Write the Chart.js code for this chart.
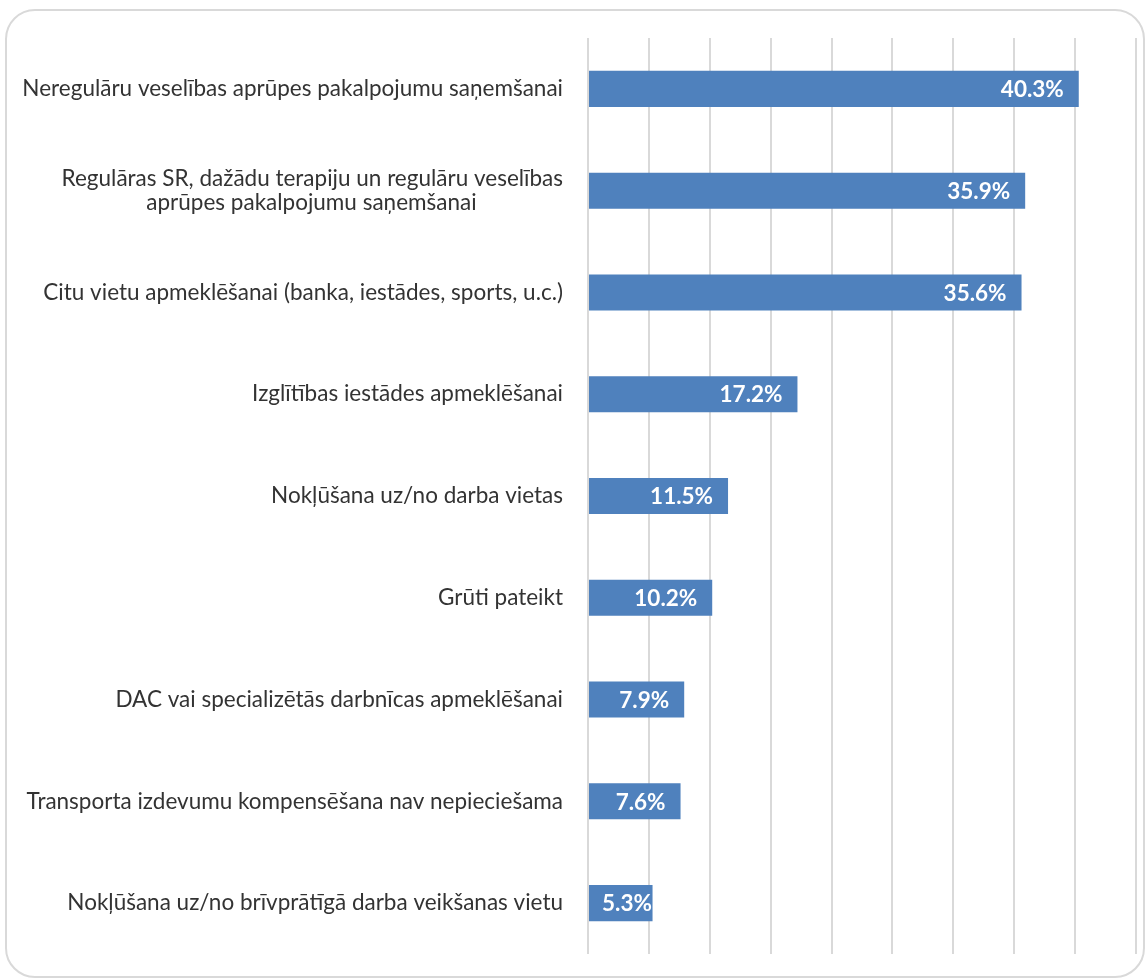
<!DOCTYPE html>
<html>
<head>
<meta charset="utf-8">
<script src="https://cdn.jsdelivr.net/npm/chart.js@4/dist/chart.umd.min.js"></script>
<style>
  html, body { margin: 0; padding: 0; background: #ffffff; }
  #wrap { position: relative; width: 1148px; height: 979px; overflow: hidden; }
  #card { position: absolute; left: 5px; top: 9px; width: 1140px; height: 969px;
          border: 2px solid #d9d9d9; border-radius: 30px; box-sizing: border-box; }
  #c { position: absolute; left: 0; top: 0; }
</style>
</head>
<body>
<div id="wrap">
  <div id="card"></div>
  <canvas id="c" width="1148" height="979"></canvas>
</div>
<script>
const FONT = 'Lato, "Open Sans", sans-serif';
const LABEL_SIZE = 22.5;

const categoryLines = [
  ['Neregulāru veselības aprūpes pakalpojumu saņemšanai'],
  ['Regulāras SR, dažādu terapiju un regulāru veselības', 'aprūpes pakalpojumu saņemšanai'],
  ['Citu vietu apmeklēšanai (banka, iestādes, sports, u.c.)'],
  ['Izglītības iestādes apmeklēšanai'],
  ['Nokļūšana uz/no darba vietas'],
  ['Grūti pateikt'],
  ['DAC vai specializētās darbnīcas apmeklēšanai'],
  ['Transporta izdevumu kompensēšana nav nepieciešama'],
  ['Nokļūšana uz/no brīvprātīgā darba veikšanas vietu']
];
const values = [40.3, 35.9, 35.6, 17.2, 11.5, 10.2, 7.9, 7.6, 5.3];
const axisMin = 0, axisMax = 45, axisStep = 5;

// Centre the lines of multi-line labels (right-aligned block, centred lines)
const mctx = document.createElement('canvas').getContext('2d');
mctx.font = LABEL_SIZE + 'px ' + FONT;
const NB = '\u00A0';
const nbW = mctx.measureText(NB).width || 4;
const categories = categoryLines.map(lines => {
  if (lines.length === 1) return lines[0];
  const widths = lines.map(l => mctx.measureText(l).width);
  const maxW = Math.max(...widths);
  return lines.map((l, i) => l + NB.repeat(Math.round((maxW - widths[i]) / 2 / nbW)));
});

const valueLabels = {
  id: 'valueLabels',
  afterDatasetsDraw(chart) {
    const ctx = chart.ctx;
    const meta = chart.getDatasetMeta(0);
    ctx.save();
    ctx.font = 'bold ' + LABEL_SIZE + 'px ' + FONT;
    ctx.fillStyle = '#ffffff';
    ctx.textBaseline = 'middle';
    ctx.textAlign = 'left';
    meta.data.forEach((bar, i) => {
      const txt = values[i].toFixed(1) + '%';
      const w = ctx.measureText(txt).width;
      let x = bar.x - 15 - w;
      const minX = bar.base + 13;
      if (x < minX) x = minX;
      ctx.fillText(txt, x, bar.y + 1);
    });
    ctx.restore();
  }
};

new Chart(document.getElementById('c'), {
  type: 'bar',
  data: {
    labels: categories,
    datasets: [{
      data: values,
      backgroundColor: '#4f81bd',
      borderWidth: 0,
      categoryPercentage: 1,
      barPercentage: 0.354
    }]
  },
  options: {
    indexAxis: 'y',
    responsive: false,
    animation: false,
    layout: { padding: { top: 38, bottom: 25, right: 12, left: 0 } },
    plugins: { legend: { display: false }, tooltip: { enabled: false } },
    scales: {
      x: {
        min: axisMin, max: axisMax,
        ticks: { display: false, stepSize: axisStep },
        grid: { color: '#d9d9d9', lineWidth: 2, drawTicks: false },
        border: { display: false }
      },
      y: {
        afterFit(scale) { scale.width = 588; scale.paddingTop = 0; scale.paddingBottom = 0; },
        grid: { display: false, drawTicks: false },
        border: { display: false },
        ticks: { color: '#333333', padding: 25, font: { family: FONT, size: LABEL_SIZE, lineHeight: 1.1 } }
      }
    }
  },
  plugins: [valueLabels]
});
</script>
</body>
</html>
